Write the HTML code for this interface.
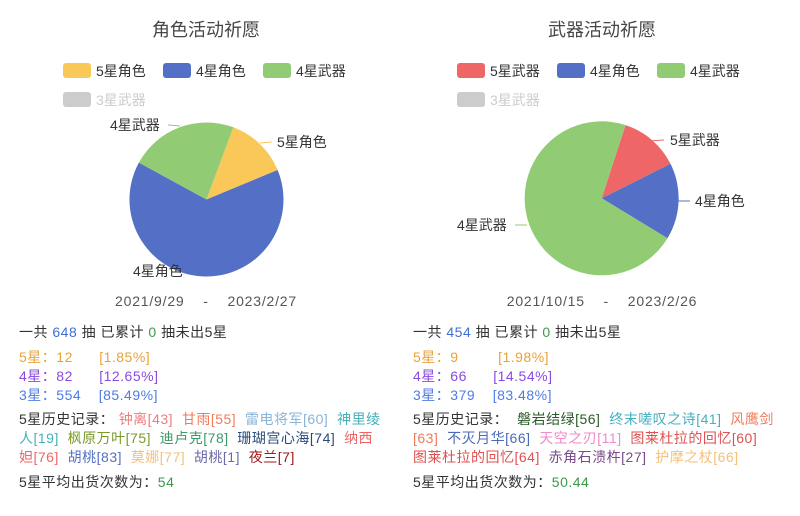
<!DOCTYPE html>
<html><head><meta charset="utf-8"><style>
body{margin:0;width:800px;height:516px;background:#fff;font-family:"Liberation Sans","Noto Sans CJK SC",sans-serif;position:relative;overflow:hidden}
.t{position:absolute;font-size:14px;line-height:19.5px;color:#333;white-space:nowrap;letter-spacing:0.5px}
.o{color:#e8a23a}.p{color:#8a4ae0}.b{color:#4f7be6}.g{color:#3a9a4a}.nb{color:#3b6fd6}
</style></head><body>
<svg width="800" height="516" style="position:absolute;left:0;top:0" font-family="Liberation Sans, Noto Sans CJK SC, sans-serif">
<text x="206" y="36" font-size="18" text-anchor="middle" fill="#464646">角色活动祈愿</text>
<text x="602" y="36" font-size="18" text-anchor="middle" fill="#464646">武器活动祈愿</text>
<g font-size="14" fill="#333">
<rect x="63" y="63" width="28" height="15" rx="3" fill="#fac858"/><text x="96" y="76">5星角色</text>
<rect x="163" y="63" width="28" height="15" rx="3" fill="#5470c6"/><text x="196" y="76">4星角色</text>
<rect x="263" y="63" width="28" height="15" rx="3" fill="#91cc75"/><text x="296" y="76">4星武器</text>
<rect x="63" y="92" width="28" height="15" rx="3" fill="#ccc"/><text x="96" y="105" fill="#ccc">3星武器</text>
<rect x="457" y="63" width="28" height="15" rx="3" fill="#ee6666"/><text x="490" y="76">5星武器</text>
<rect x="557" y="63" width="28" height="15" rx="3" fill="#5470c6"/><text x="590" y="76">4星角色</text>
<rect x="657" y="63" width="28" height="15" rx="3" fill="#91cc75"/><text x="690" y="76">4星武器</text>
<rect x="457" y="92" width="28" height="15" rx="3" fill="#ccc"/><text x="490" y="105" fill="#ccc">3星武器</text>
</g>
<path d="M206.5 199.5L233.3 127.3A77 77 0 0 1 277.6 170Z" fill="#fac858"/>
<path d="M206.5 199.5L277.6 170A77 77 0 1 1 138.9 162.6Z" fill="#5470c6"/>
<path d="M206.5 199.5L138.9 162.6A77 77 0 0 1 233.3 127.3Z" fill="#91cc75"/>
<path d="M601.7 198.3L625.5 125.1A77 77 0 0 1 670.5 163.8Z" fill="#ee6666"/>
<path d="M601.7 198.3L670.5 163.8A77 77 0 0 1 667.5 238.2Z" fill="#5470c6"/>
<path d="M601.7 198.3L667.5 238.2A77 77 0 1 1 625.5 125.1Z" fill="#91cc75"/>
<g fill="none" stroke-width="1">
<path d="M260 143L272 142" stroke="#fac858"/>
<path d="M168 125L180 126" stroke="#91cc75"/>
<path d="M648 141L664 140" stroke="#ee6666"/>
<path d="M678 201L690 201" stroke="#5470c6"/>
<path d="M515 225L527 225" stroke="#91cc75"/>
</g>
<g font-size="14" fill="#333">
<text x="277" y="147">5星角色</text>
<text x="110" y="130">4星武器</text>
<text x="133" y="276">4星角色</text>
<text x="670" y="145">5星武器</text>
<text x="695" y="206">4星角色</text>
<text x="457" y="230">4星武器</text>
<text x="206" y="306" text-anchor="middle" fill="#555" letter-spacing="0.8">2021/9/29 &#160;&#160; - &#160;&#160; 2023/2/27</text>
<text x="602" y="306" text-anchor="middle" fill="#555" letter-spacing="0.8">2021/10/15 &#160;&#160; - &#160;&#160; 2023/2/26</text>
</g>
</svg>
<div class="t" style="left:19px;top:323px">一共 <span class="nb">648</span> 抽 已累计 <span class="g">0</span> 抽未出5星</div>
<div class="t o" style="left:19px;top:348px">5星：12 &#160;&#160;&#160;&#160;&#160;[1.85%]</div>
<div class="t p" style="left:19px;top:367px">4星：82 &#160;&#160;&#160;&#160;&#160;[12.65%]</div>
<div class="t b" style="left:19px;top:386px">3星：554 &#160;&#160;&#160;[85.49%]</div>
<div class="t" style="left:19px;top:410px">5星历史记录： <span style="color:#ee7d7d">钟离[43]</span>&#160; <span style="color:#f07c5c">甘雨[55]</span>&#160; <span style="color:#8ab4d8">雷电将军[60]</span>&#160; <span style="color:#45b0b8">神里绫</span></div>
<div class="t" style="left:19px;top:429px"><span style="color:#45b0b8">人[19]</span>&#160; <span style="color:#7a9a2a">枫原万叶[75]</span>&#160; <span style="color:#3a9a6a">迪卢克[78]</span>&#160; <span style="color:#2a4a7a">珊瑚宫心海[74]</span>&#160; <span style="color:#ee6666">纳西</span></div>
<div class="t" style="left:19px;top:448px"><span style="color:#ee6666">妲[76]</span>&#160; <span style="color:#5470c6">胡桃[83]</span>&#160; <span style="color:#f5c07a">莫娜[77]</span>&#160; <span style="color:#6a6aaa">胡桃[1]</span>&#160; <span style="color:#a01818">夜兰[7]</span></div>
<div class="t" style="left:19px;top:473px">5星平均出货次数为：<span class="g">54</span></div>

<div class="t" style="left:413px;top:323px">一共 <span class="nb">454</span> 抽 已累计 <span class="g">0</span> 抽未出5星</div>
<div class="t o" style="left:413px;top:348px">5星：9 &#160;&#160;&#160;&#160;&#160;&#160;&#160;&#160;[1.98%]</div>
<div class="t p" style="left:413px;top:367px">4星：66 &#160;&#160;&#160;&#160;&#160;[14.54%]</div>
<div class="t b" style="left:413px;top:386px">3星：379 &#160;&#160;&#160;[83.48%]</div>
<div class="t" style="left:413px;top:410px">5星历史记录： &#160;<span style="color:#2a5a2a">磐岩结绿[56]</span>&#160; <span style="color:#45b0c0">终末嗟叹之诗[41]</span>&#160; <span style="color:#f07c5c">风鹰剑</span></div>
<div class="t" style="left:413px;top:429px"><span style="color:#f07c5c">[63]</span>&#160; <span style="color:#4a6ab8">不灭月华[66]</span>&#160; <span style="color:#f08ac8">天空之刃[11]</span>&#160; <span style="color:#e05050">图莱杜拉的回忆[60]</span></div>
<div class="t" style="left:413px;top:448px"><span style="color:#e05050">图莱杜拉的回忆[64]</span>&#160; <span style="color:#7a4a8a">赤角石溃杵[27]</span>&#160; <span style="color:#f5c07a">护摩之杖[66]</span></div>
<div class="t" style="left:413px;top:473px">5星平均出货次数为：<span class="g">50.44</span></div>
</body></html>
